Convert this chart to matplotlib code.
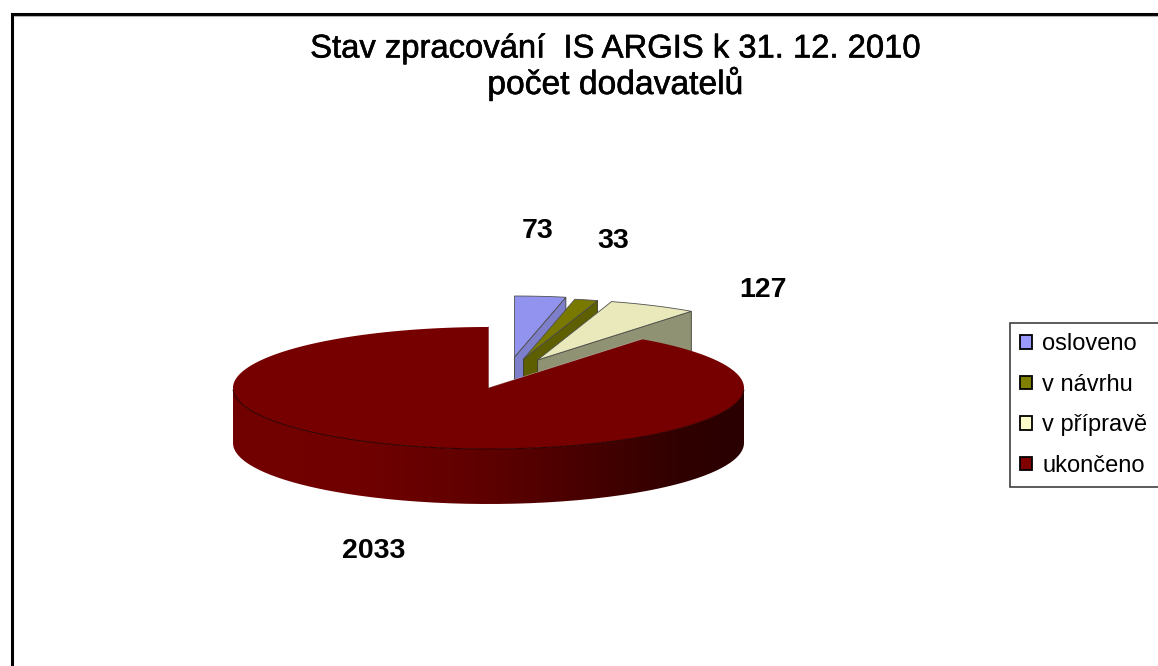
import numpy as np
import matplotlib
matplotlib.use("Agg")
import matplotlib.pyplot as plt
import matplotlib.patheffects as pe
from matplotlib.colors import LinearSegmentedColormap
from matplotlib.patches import Patch, PathPatch, Polygon
from matplotlib.path import Path

plt.rcParams['font.family'] = ['Liberation Sans', 'DejaVu Sans']

# --- data ---
categories = ['osloveno', 'v návrhu', 'v přípravě', 'ukončeno']
values = [73, 33, 127, 2033]
title_lines = ['Stav zpracování  IS ARGIS k 31. 12. 2010', 'počet dodavatelů']

# --- style ---
top_colors = ['#9193ee', '#797900', '#e9e9bb', '#760000']
side_colors = ['#7d7fca', '#5d5f00', '#8f9273', '#5a0000']
legend_colors = ['#9999ff', '#808000', '#ffffcc', '#800000']
explode = [(26, -31), (35, -29), (49, -28), (0, 0)]
label_xy = [(538, 231), (613, 241), (763, 290), (374, 551)]
CX, CY, A, B, DEPTH = 488.5, 388, 255.5, 61, 55

fig = plt.figure(figsize=(11.58, 6.66), dpi=100, facecolor='white')
ax = fig.add_axes([0, 0, 1, 1])
ax.set_xlim(0, 1158)
ax.set_ylim(666, 0)
ax.axis('off')

# chart frame
ax.plot([11.8, 11.8, 1158], [666, 14.2, 14.2], color='black', lw=2.2, solid_joinstyle='miter', zorder=1)
ax.plot([13.5, 1158], [15.8, 15.8], color='#b0b0b0', lw=0.8, zorder=1)


def arc(t0, t1, dx=0, dy=0, n=200):
    t = np.radians(np.linspace(t0, t1, n))
    return np.column_stack([CX + dx + A * np.sin(t), CY + dy - B * np.cos(t)])


angles = np.concatenate([[0], np.cumsum(values) / np.sum(values) * 360])

# exploded small slices, back to front
for i in range(3):
    dx, dy = explode[i]
    apex = np.array([CX + dx, CY + dy])
    end = arc(angles[i + 1], angles[i + 1], dx, dy, 1)[0]
    down = np.array([0, DEPTH])
    ax.add_patch(Polygon([apex, end, end + down, apex + down], closed=True,
                         facecolor=side_colors[i], edgecolor='#3a3a2a', lw=0.6, zorder=3 + i))
    ax.add_patch(Polygon(np.vstack([apex, arc(angles[i], angles[i + 1], dx, dy, 40)]), closed=True,
                         facecolor=top_colors[i], edgecolor='#505050', lw=0.6, zorder=3 + i))

# main slice: outer wall with a horizontal gradient, then the top face
t0, t1 = angles[3], angles[4]
wall_top = arc(90, 270)
wall = np.vstack([wall_top, wall_top[::-1] + [0, DEPTH]])
wall_patch = PathPatch(Path(wall), transform=ax.transData, facecolor='none', edgecolor='none')
ax.add_patch(wall_patch)
cmap = LinearSegmentedColormap.from_list('wall', [
    (0.0, '#720000'), (0.25, '#700000'), (0.50, '#5e0000'),
    (0.72, '#440000'), (0.88, '#300000'), (1.0, '#2a0000')])
im = ax.imshow(np.linspace(0, 1, 512)[None, :], cmap=cmap, aspect='auto',
               extent=(CX - A, CX + A, CY + B + DEPTH, CY - 5), zorder=7)
im.set_clip_path(wall_patch)
ax.set_xlim(0, 1158)
ax.set_ylim(666, 0)
ax.add_patch(Polygon(np.vstack([[CX, CY], arc(t0, t1, n=300)]), closed=True,
                     facecolor=top_colors[3], edgecolor='none', zorder=9))
ax.plot(*arc(92, 268).T, color='#2a0000', lw=0.7, zorder=10)
ax.plot(*np.array([arc(t1, t1, n=1)[0], [CX, CY], arc(t0, t0, n=1)[0]]).T,
        color='#b8a8a8', lw=0.7, zorder=8.5)

# value labels
for v, (x, y) in zip(values, label_xy):
    ax.text(x, y, str(v), fontsize=20.5, fontweight='bold', ha='center', va='center',
            color='black', zorder=12)

# title
stroke = [pe.withStroke(linewidth=0.4, foreground='black')]
ax.text(615, 49, title_lines[0], fontsize=23.6, ha='center', va='center', color='black',
        zorder=12, path_effects=stroke)
ax.text(615, 84, title_lines[1], fontsize=24.2, ha='center', va='center', color='black',
        zorder=12, path_effects=stroke)

# legend
handles = [Patch(facecolor=c, edgecolor='black', lw=1.3) for c in legend_colors]
leg = ax.legend(handles, categories, loc='upper left',
                bbox_to_anchor=(1010, 323, 150, 159), bbox_transform=ax.transData,
                mode='expand', borderaxespad=0, fontsize=17, labelspacing=0.78,
                handlelength=0.5, handleheight=0.5, handletextpad=0.43,
                borderpad=0.44, fancybox=False, framealpha=1, edgecolor='#404040')
leg.get_frame().set_linewidth(1.2)
leg.set_zorder(12)

fig.savefig('out.png', dpi=100, facecolor='white')
